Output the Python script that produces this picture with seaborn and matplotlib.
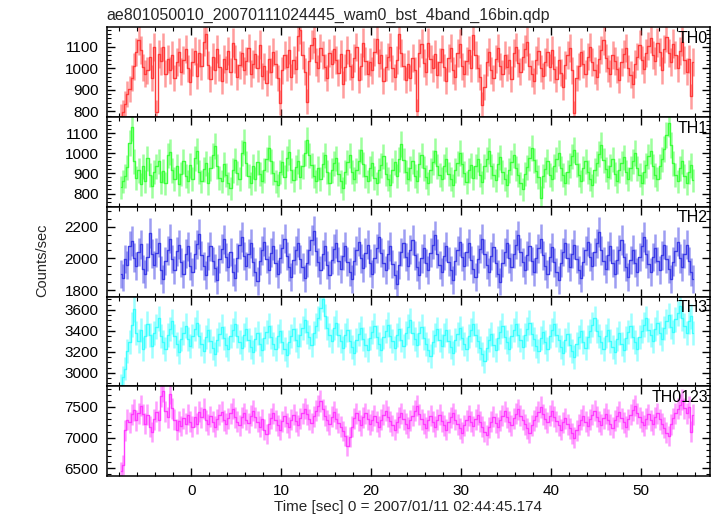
import numpy as np
import matplotlib
matplotlib.use("Agg")
import matplotlib.pyplot as plt
import seaborn as sns
from matplotlib.ticker import MultipleLocator

title = "ae801050010_20070111024445_wam0_bst_4band_16bin.qdp"
bands = ["TH0", "TH1", "TH2", "TH3", "TH0123"]
colors = ["#ff3c3c", "#3cff3c", "#3c3ce6", "#3cffff", "#ff3cff"]
t_start = -8.0
bin_width = 0.25

# count rates (counts/sec), 0.25 s bins, 16 bins per row = 4 s per row
th0 = [
    780, 795, 835, 880, 905, 955, 1010, 1075, 1130, 1085, 1005, 975, 990, 1055, 955, 1100,
    795, 1065, 1035, 1100, 975, 1045, 990, 1060, 955, 1030, 1075, 985, 1040, 1090, 1000, 935,
    1030, 1080, 965, 1070, 1010, 1125, 1160, 1015, 950, 1055, 990, 1090, 1005, 940, 1045, 995,
    1080, 985, 1120, 1045, 960, 1015, 1070, 990, 1035, 1095, 975, 1020, 1065, 1000, 1110, 965,
    1010, 930, 1045, 985, 1075, 1020, 955, 840, 990, 1060, 1005, 1085, 960, 1040, 995, 1150,
    1180, 1060, 985, 845, 1035, 1110, 1140, 1030, 1000, 1095, 1060, 1005, 955, 1070, 1020, 1090,
    1040, 980, 1065, 925, 1005, 1085, 1010, 960, 1050, 1100, 945, 1010, 1120, 1035, 975, 1030,
    990, 1075, 1135, 1025, 1060, 940, 1005, 1055, 1100, 1000, 960, 1040, 1160, 1070, 1010, 945,
    1020, 955, 1050, 990, 800, 1070, 1115, 1025, 985, 1120, 1045, 1000, 1065, 970, 1030, 1090,
    1005, 940, 1050, 1095, 990, 960, 1070, 1115, 1010, 975, 1035, 1085, 1000, 1155, 1060, 1000,
    960, 830, 915, 1030, 1075, 990, 955, 1045, 1095, 1010, 975, 1060, 1005, 1040, 950, 1070,
    1100, 1025, 985, 1055, 1090, 1125, 1010, 975, 940, 1040, 1080, 1000, 965, 1030, 1075, 1005,
    1085, 995, 950, 1040, 980, 915, 1015, 1060, 1095, 990, 790, 955, 1010, 1075, 1020, 975,
    1055, 1100, 1030, 990, 960, 1045, 1085, 1130, 1050, 1000, 975, 1060, 1035, 995, 945, 1030,
    1065, 1095, 1000, 970, 925, 1020, 1055, 1110, 1040, 995, 1070, 1105, 1140, 1060, 1035, 1120,
    1075, 990, 1090, 1145, 1070, 1030, 1115, 1060, 1000, 1080, 1125, 1040, 985, 1045, 870, 1030,
]
th1 = [
    830, 860, 885, 930, 1050, 1130, 960, 875, 915, 845, 935, 860, 975, 890, 835, 905,
    935, 960, 855, 910, 850, 990, 1005, 915, 870, 935, 845, 895, 960, 885, 860, 940,
    870, 975, 1010, 905, 860, 920, 950, 850, 925, 990, 1035, 935, 875, 860, 945, 890,
    850, 825, 915, 965, 900, 870, 1000, 1055, 950, 885, 850, 935, 870, 955, 895, 860,
    915, 970, 1025, 960, 900, 860, 840, 905, 955, 880, 975, 1005, 915, 865, 930, 960,
    880, 935, 1000, 1065, 990, 940, 885, 860, 925, 870, 945, 990, 905, 850, 915, 950,
    975, 895, 860, 825, 905, 955, 990, 905, 870, 915, 960, 1015, 945, 885, 860, 925,
    950, 875, 850, 915, 940, 985, 895, 870, 840, 915, 955, 885, 970, 1045, 965, 905,
    870, 925, 960, 885, 860, 945, 990, 925, 880, 850, 915, 955, 1010, 935, 890, 870,
    935, 970, 895, 870, 840, 915, 950, 1000, 945, 900, 855, 915, 940, 875, 935, 970,
    890, 855, 935, 970, 1010, 935, 890, 865, 945, 980, 905, 870, 840, 915, 955, 990,
    925, 890, 850, 820, 895, 930, 975, 1025, 965, 910, 880, 780, 885, 920, 960, 890,
    870, 935, 970, 1000, 925, 890, 850, 905, 940, 985, 1015, 945, 890, 860, 925, 960,
    905, 870, 840, 915, 950, 995, 1040, 965, 920, 880, 935, 970, 895, 860, 915, 950,
    980, 905, 870, 925, 960, 1000, 925, 890, 850, 905, 940, 985, 1010, 935, 890, 870,
    935, 970, 1020, 1090, 1150, 1040, 950, 890, 860, 925, 960, 885, 850, 905, 940, 865,
]
th2 = [
    1900, 1880, 1995, 1960, 2080, 2110, 2005, 1950, 2040, 2090, 1935, 1905, 2010, 2160, 2030, 1960,
    2035, 2100, 1925, 1870, 1985, 2050, 2125, 1995, 1930, 2045, 2085, 1975, 1905, 2030, 2075, 1955,
    1915, 2025, 2090, 2155, 2020, 1950, 1895, 2015, 2075, 1985, 1940, 1865, 1995, 2060, 2120, 2010,
    1945, 2040, 1915, 1880, 2005, 2085, 2135, 2015, 1955, 2030, 2095, 1980, 1915, 1860, 1985, 2050,
    2105, 1995, 1930, 2035, 2080, 1970, 1905, 2000, 2065, 2125, 2015, 1945, 1885, 1990, 2050, 2100,
    1995, 1945, 1875, 1970, 2050, 2115, 2175, 2045, 1975, 1925, 2025, 2075, 1960, 1895, 1990, 2060,
    2095, 1985, 1935, 2015, 2075, 1980, 1915, 1870, 1985, 2050, 2105, 2000, 1940, 2035, 2085, 1970,
    1905, 2000, 2065, 2135, 2035, 1970, 1925, 2025, 2075, 1965, 1895, 1840, 1960, 2040, 2095, 2010,
    1950, 2055, 2115, 2020, 1945, 1895, 2000, 2065, 1970, 1925, 2035, 2085, 2145, 2030, 1960, 1915,
    2015, 2075, 1980, 1925, 1865, 1985, 2050, 2105, 2010, 1955, 2040, 2095, 1990, 1935, 1885, 1995,
    2060, 2125, 2030, 1960, 1915, 2015, 2070, 1970, 1905, 1855, 1970, 2040, 2095, 2000, 1945, 2030,
    2085, 2145, 2040, 1975, 1925, 2020, 2075, 1985, 1915, 2000, 2065, 2125, 2020, 1955, 1905, 2010,
    2070, 1975, 1915, 1865, 1970, 2040, 2095, 2005, 1945, 2030, 2085, 1995, 1925, 1875, 1980, 2050,
    2105, 2010, 1955, 2040, 2095, 2165, 2050, 1985, 1935, 2020, 2075, 1970, 1905, 1990, 2055, 2115,
    2010, 1945, 1885, 1990, 2055, 1970, 1915, 2010, 2075, 2135, 2030, 1965, 1915, 2010, 2065, 1985,
    1925, 2020, 2085, 1995, 1935, 1870, 1980, 2045, 2105, 2000, 1945, 2030, 2085, 1985, 1915, 1870,
]
th3 = [
    2880, 2960, 3040, 3210, 3290, 3460, 3610, 3380, 3300, 3410, 3230, 3350, 3470, 3360, 3260, 3380,
    3440, 3520, 3350, 3290, 3230, 3360, 3420, 3490, 3350, 3280, 3200, 3320, 3380, 3450, 3320, 3260,
    3350, 3420, 3480, 3350, 3280, 3210, 3340, 3410, 3300, 3240, 3180, 3310, 3370, 3440, 3330, 3270,
    3230, 3350, 3410, 3470, 3350, 3290, 3240, 3360, 3420, 3310, 3250, 3200, 3320, 3380, 3280, 3220,
    3330, 3390, 3450, 3340, 3280, 3230, 3350, 3400, 3290, 3230, 3170, 3290, 3350, 3420, 3310, 3260,
    3360, 3430, 3500, 3390, 3340, 3270, 3380, 3450, 3520, 3620, 3700, 3540, 3430, 3360, 3300, 3430,
    3480, 3360, 3300, 3240, 3360, 3410, 3300, 3250, 3190, 3310, 3370, 3430, 3320, 3270, 3220, 3330,
    3390, 3450, 3340, 3280, 3220, 3340, 3400, 3460, 3350, 3300, 3240, 3360, 3420, 3310, 3260, 3380,
    3440, 3500, 3380, 3320, 3270, 3380, 3440, 3330, 3280, 3220, 3160, 3290, 3360, 3420, 3310, 3260,
    3360, 3410, 3300, 3250, 3190, 3310, 3370, 3430, 3330, 3280, 3230, 3350, 3410, 3470, 3360, 3300,
    3240, 3180, 3110, 3240, 3310, 3370, 3270, 3220, 3330, 3390, 3450, 3340, 3290, 3230, 3350, 3410,
    3470, 3360, 3310, 3250, 3360, 3420, 3480, 3370, 3320, 3260, 3210, 3330, 3390, 3290, 3230, 3350,
    3410, 3470, 3360, 3310, 3250, 3190, 3310, 3370, 3270, 3210, 3150, 3280, 3340, 3400, 3290, 3240,
    3340, 3400, 3460, 3520, 3400, 3350, 3290, 3230, 3350, 3410, 3300, 3250, 3200, 3320, 3380, 3280,
    3220, 3330, 3390, 3450, 3340, 3290, 3230, 3340, 3400, 3460, 3520, 3410, 3360, 3300, 3420, 3480,
    3380, 3320, 3430, 3490, 3550, 3440, 3390, 3510, 3570, 3640, 3520, 3450, 3380, 3490, 3540, 3380,
]
th0123 = [
    6450, 6560, 7120, 7290, 7250, 7380, 7450, 7280, 7400, 7520, 7380, 7230, 7370, 7180, 7090, 7300,
    7420, 7280, 7680, 7760, 7430, 7330, 7720, 7480, 7290, 7130, 7270, 7190, 7320, 7230, 7370, 7260,
    7180, 7340, 7230, 7420, 7330, 7470, 7280, 7220, 7350, 7260, 7180, 7300, 7370, 7420, 7280, 7230,
    7320, 7400, 7470, 7330, 7260, 7200, 7330, 7400, 7290, 7240, 7360, 7440, 7330, 7260, 7180, 7300,
    7130, 7060, 7230, 7320, 7400, 7280, 7200, 7130, 7270, 7350, 7240, 7170, 7290, 7370, 7270, 7200,
    7320, 7400, 7470, 7380, 7300, 7240, 7350, 7440, 7520, 7600, 7460, 7360, 7280, 7220, 7340, 7420,
    7310, 7240, 7180, 7110, 7030, 6870, 7010, 7180, 7320, 7400, 7280, 7200, 7330, 7400, 7300, 7220,
    7280, 7360, 7260, 7180, 7290, 7370, 7440, 7340, 7270, 7200, 7130, 7250, 7330, 7400, 7300, 7230,
    7160, 7280, 7360, 7440, 7520, 7380, 7300, 7230, 7160, 7280, 7360, 7260, 7180, 7290, 7370, 7270,
    7200, 7130, 7250, 7330, 7400, 7290, 7220, 7150, 7080, 7200, 7280, 7360, 7260, 7190, 7300, 7370,
    7260, 7180, 7100, 7040, 7170, 7260, 7340, 7240, 7170, 7280, 7360, 7430, 7330, 7260, 7200, 7320,
    7390, 7460, 7360, 7290, 7220, 7150, 7080, 7200, 7280, 7350, 7420, 7500, 7380, 7310, 7250, 7360,
    7440, 7340, 7270, 7200, 7130, 7250, 7320, 7220, 7150, 7070, 7000, 7120, 7210, 7290, 7360, 7260,
    7190, 7300, 7370, 7440, 7340, 7270, 7210, 7320, 7390, 7290, 7220, 7160, 7280, 7350, 7420, 7320,
    7250, 7180, 7300, 7370, 7450, 7520, 7400, 7330, 7260, 7200, 7310, 7380, 7280, 7220, 7330, 7400,
    7300, 7230, 7160, 7080, 7030, 7220, 7320, 7400, 7470, 7540, 7620, 7480, 7400, 7500, 7100, 7370,
]

y_limits = [(773, 1191), (734, 1179), (1761, 2324), (2872, 3728), (6374, 7838)]
y_ticks = [[800, 900, 1000, 1100], [800, 900, 1000, 1100], [1800, 2000, 2200],
           [3000, 3200, 3400, 3600], [6500, 7000, 7500]]
y_minor = [20, 20, 50, 50, 100]

series = [th0, th1, th2, th3, th0123]
for s in series:
    assert len(s) == 256, len(s)

sns.set_theme(style="ticks")
plt.rcParams["font.family"] = ["Liberation Sans", "DejaVu Sans"]

fig, axes = plt.subplots(5, 1, figsize=(7.17, 5.16), dpi=100, sharex=True,
                         gridspec_kw={"hspace": 0})
fig.subplots_adjust(left=0.149, right=0.990, bottom=0.0775, top=0.947)

for ax, band, color, vals, ylim, yt, ym in zip(axes, bands, colors, series,
                                               y_limits, y_ticks, y_minor):
    vals = np.asarray(vals, dtype=float)
    t = t_start + bin_width * (np.arange(len(vals)) + 0.5)
    err = np.sqrt(vals / bin_width)  # counting statistics
    ax.errorbar(t, vals, yerr=err, fmt="none", ecolor=color, alpha=0.5,
                elinewidth=1.8, capsize=0)
    sns.lineplot(x=t, y=vals, ax=ax, color=color, linewidth=1.0,
                 drawstyle="steps-mid", estimator=None)
    ax.set_ylim(*ylim)
    ax.set_yticks(yt)
    ax.yaxis.set_minor_locator(MultipleLocator(ym))
    ax.set_ylabel("")
    ax.text(0.997, 0.96, band, transform=ax.transAxes, ha="right", va="top",
            fontsize=11.5, color="black")
    for sp in ax.spines.values():
        sp.set_linewidth(1.1)
        sp.set_color("black")
    ax.tick_params(which="both", direction="in", top=True, right=True,
                   labelsize=11, colors="black", pad=6)
    ax.tick_params(which="major", length=6, width=1)
    ax.tick_params(which="minor", length=3, width=0.8)

axes[-1].set_xlim(-9.4, 57.7)
axes[-1].xaxis.set_major_locator(MultipleLocator(10))
axes[-1].xaxis.set_minor_locator(MultipleLocator(2))
axes[-1].set_xlabel("Time [sec] 0 = 2007/01/11 02:44:45.174", fontsize=11, labelpad=1)

fig.text(0.149, 1 - 20 / 516, title, ha="left", va="baseline", fontsize=11.5)
fig.text(42 / 717, 0.496, "Counts/sec", rotation=90, ha="center", va="center",
         fontsize=10.5)

fig.savefig("out.png", dpi=100)
